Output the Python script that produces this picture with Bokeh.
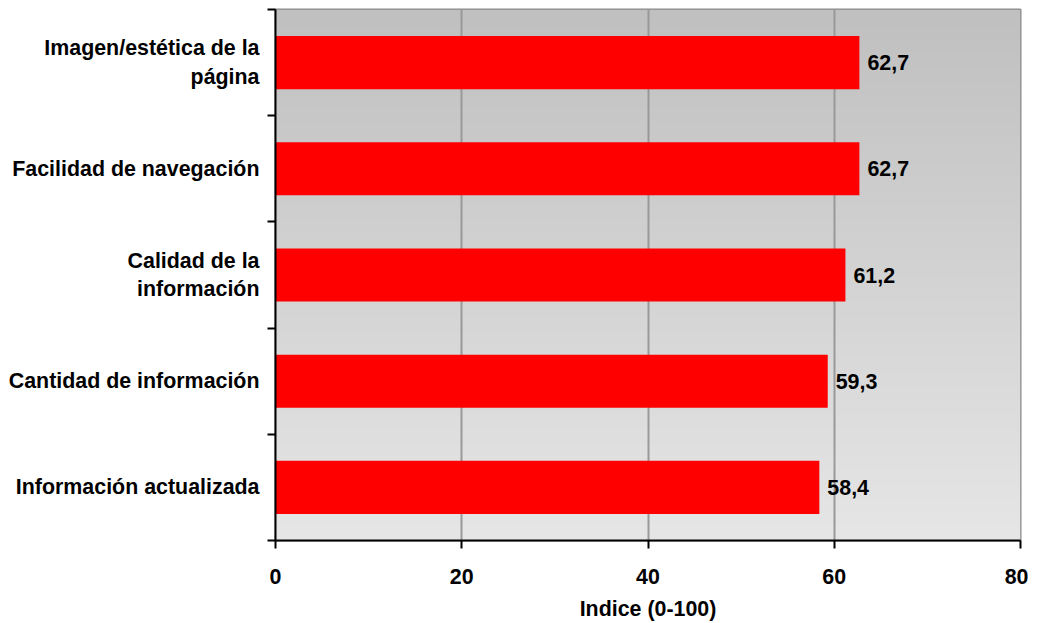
import numpy as np
from bokeh.plotting import figure
from bokeh.models import ColumnDataSource, FixedTicker, Range1d, LabelSet
from bokeh.core.properties import value
from bokeh.embed import file_html
from bokeh.resources import INLINE

categories = ["Imagen/estética de la\npágina", "Facilidad de navegación",
              "Calidad de la\ninformación", "Cantidad de información",
              "Información actualizada"]
values = [62.7, 62.7, 61.2, 59.3, 58.4]
x_ticks = [0, 20, 40, 60, 80]
x_title = "Indice (0-100)"

n = len(categories)
ypos = [n - i - 0.5 for i in range(n)]
labels = [f"{v:.1f}".replace(".", ",") for v in values]
src = ColumnDataSource(dict(y=ypos, v=values, lab=labels))

FONT = "Liberation Sans"
FS = "21.4px"

p = figure(width=1028, height=620, output_backend="svg", toolbar_location=None,
           x_range=Range1d(0, 80), y_range=Range1d(0, n),
           min_border_left=275, min_border_top=9, min_border_right=8,
           min_border_bottom=80)
p.frame_width = 745
p.frame_height = 531

# gradient background
H = 200
g = np.linspace(230, 192, H)  # bottom -> top
img = np.zeros((H, 1), dtype=np.uint32)
view = img.view(dtype=np.uint8).reshape((H, 1, 4))
view[:, 0, 0] = g.astype(np.uint8)
view[:, 0, 1] = g.astype(np.uint8)
view[:, 0, 2] = g.astype(np.uint8)
view[:, 0, 3] = 255
p.image_rgba(image=[img], x=0, y=0, dw=80, dh=n, level="image")

p.xgrid.ticker = FixedTicker(ticks=x_ticks)
p.xgrid.grid_line_color = "#999999"
p.xgrid.grid_line_width = 2
p.xgrid.level = "underlay"
p.ygrid.grid_line_color = None

p.hbar(y="y", right="v", left=0, height=0.5, source=src,
       fill_color="#ff0000", line_color=None)

lbl = LabelSet(x="v", y="y", text="lab", source=src, x_offset=8,
               text_font=value(FONT), text_font_style="bold", text_font_size=FS,
               text_baseline="middle", text_color="black")
p.add_layout(lbl)

p.outline_line_color = "#888888"
p.outline_line_width = 2
p.background_fill_color = "#e6e6e6"

xa = p.xaxis[0]
xa.ticker = FixedTicker(ticks=x_ticks)
xa.axis_line_width = 2
xa.axis_line_color = "black"
xa.major_tick_line_width = 2
xa.major_tick_line_color = "black"
xa.major_tick_out = 8
xa.major_tick_in = 0
xa.minor_tick_line_color = None
xa.major_label_text_font = FONT
xa.major_label_text_font_style = "bold"
xa.major_label_text_font_size = FS
xa.major_label_text_color = "black"
xa.major_label_standoff = 20
xa.axis_label = x_title
xa.axis_label_text_font = FONT
xa.axis_label_text_font_style = "bold"
xa.axis_label_text_font_size = FS
xa.axis_label_text_color = "black"
xa.axis_label_standoff = 10

ya = p.yaxis[0]
ya.ticker = FixedTicker(ticks=ypos, minor_ticks=list(range(n + 1)))
ya.major_label_overrides = {y: c for y, c in zip(ypos, categories)}
ya.axis_line_width = 2
ya.axis_line_color = "black"
ya.major_tick_line_color = None
ya.major_tick_out = 0
ya.major_tick_in = 0
ya.minor_tick_line_width = 2
ya.minor_tick_line_color = "black"
ya.minor_tick_out = 8
ya.minor_tick_in = 0
ya.major_label_text_font = FONT
ya.major_label_text_font_style = "bold"
ya.major_label_text_font_size = FS
ya.major_label_text_color = "black"
ya.major_label_standoff = 8

open("out.html", "w").write(file_html(p, INLINE))
